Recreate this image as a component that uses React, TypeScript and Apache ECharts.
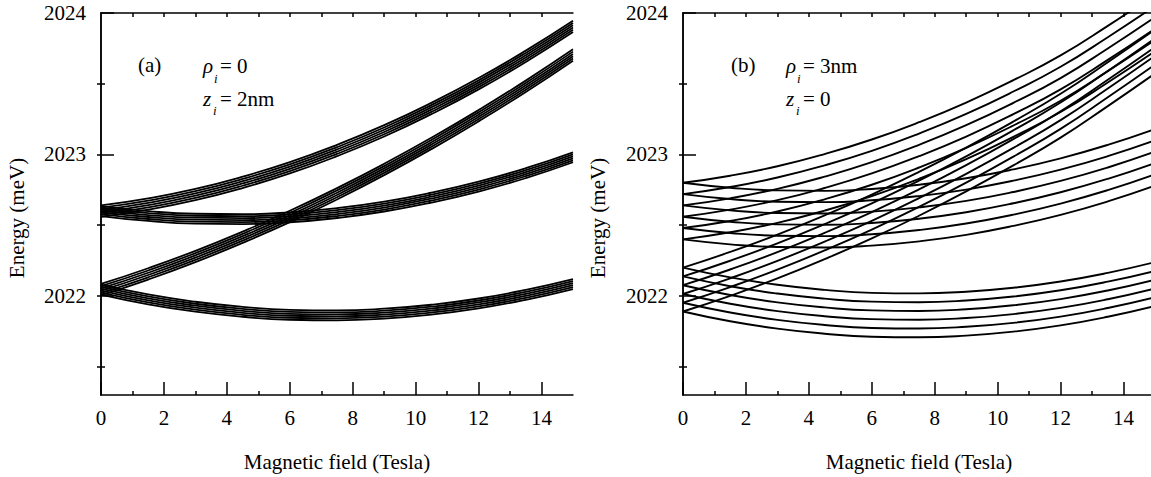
import React, { useEffect, useRef } from "react";
import * as echarts from "echarts";

// Magnetic field sample points (Tesla)
const B_FIELD = [0, 1.5, 3, 4.5, 6, 7.5, 9, 10.5, 12, 13.5, 15];
const X_MAJOR = [0, 2, 4, 6, 8, 10, 12, 14];
const X_MINOR = [1, 3, 5, 7, 9, 11, 13];
const X_TOP = [1, 2, 3, 4, 5, 6, 7, 8, 9, 10, 11, 12, 13, 14];
const Y_MAJOR = [2022, 2023, 2024];
const Y_MINOR = [2021.5, 2022.5, 2023.5];
const Y_RIGHT_TICKS = [2021.5, 2022, 2022.5, 2023, 2023.5];

// Panel (a): rho_i = 0, z_i = 2nm  (four bands of six lines each, meV)
const LEFT_BAND_1 = [
  [2022.64, 2022.69, 2022.757, 2022.843, 2022.946, 2023.068, 2023.207, 2023.365, 2023.54, 2023.734, 2023.945],
  [2022.624, 2022.674, 2022.741, 2022.827, 2022.93, 2023.052, 2023.191, 2023.349, 2023.524, 2023.718, 2023.929],
  [2022.608, 2022.658, 2022.725, 2022.811, 2022.914, 2023.036, 2023.175, 2023.333, 2023.508, 2023.702, 2023.913],
  [2022.592, 2022.642, 2022.709, 2022.795, 2022.898, 2023.02, 2023.159, 2023.317, 2023.492, 2023.686, 2023.897],
  [2022.576, 2022.626, 2022.693, 2022.779, 2022.882, 2023.004, 2023.143, 2023.301, 2023.476, 2023.67, 2023.881],
  [2022.56, 2022.61, 2022.677, 2022.763, 2022.866, 2022.988, 2023.127, 2023.285, 2023.46, 2023.654, 2023.865],
];
const LEFT_BAND_2 = [
  [2022.085, 2022.196, 2022.319, 2022.455, 2022.602, 2022.762, 2022.934, 2023.118, 2023.314, 2023.522, 2023.743],
  [2022.069, 2022.18, 2022.303, 2022.439, 2022.586, 2022.746, 2022.918, 2023.102, 2023.298, 2023.506, 2023.727],
  [2022.053, 2022.164, 2022.287, 2022.423, 2022.57, 2022.73, 2022.902, 2023.086, 2023.282, 2023.49, 2023.711],
  [2022.037, 2022.148, 2022.271, 2022.407, 2022.554, 2022.714, 2022.886, 2023.07, 2023.266, 2023.474, 2023.695],
  [2022.021, 2022.132, 2022.255, 2022.391, 2022.538, 2022.698, 2022.87, 2023.054, 2023.25, 2023.458, 2023.679],
  [2022.005, 2022.116, 2022.239, 2022.375, 2022.522, 2022.682, 2022.854, 2023.038, 2023.234, 2023.442, 2023.663],
];
const LEFT_BAND_3 = [
  [2022.635, 2022.6, 2022.581, 2022.578, 2022.591, 2022.621, 2022.667, 2022.73, 2022.808, 2022.903, 2023.015],
  [2022.621, 2022.586, 2022.567, 2022.564, 2022.577, 2022.607, 2022.653, 2022.716, 2022.794, 2022.889, 2023.001],
  [2022.607, 2022.572, 2022.553, 2022.55, 2022.563, 2022.593, 2022.639, 2022.702, 2022.78, 2022.875, 2022.987],
  [2022.593, 2022.558, 2022.539, 2022.536, 2022.549, 2022.579, 2022.625, 2022.688, 2022.766, 2022.861, 2022.973],
  [2022.579, 2022.544, 2022.525, 2022.522, 2022.535, 2022.565, 2022.611, 2022.674, 2022.752, 2022.847, 2022.959],
  [2022.565, 2022.53, 2022.511, 2022.508, 2022.521, 2022.551, 2022.597, 2022.66, 2022.738, 2022.833, 2022.945],
];
const LEFT_BAND_4 = [
  [2022.08, 2022.011, 2021.959, 2021.923, 2021.902, 2021.898, 2021.91, 2021.938, 2021.982, 2022.043, 2022.119],
  [2022.066, 2021.997, 2021.945, 2021.909, 2021.888, 2021.884, 2021.896, 2021.924, 2021.968, 2022.029, 2022.105],
  [2022.052, 2021.983, 2021.931, 2021.895, 2021.874, 2021.87, 2021.882, 2021.91, 2021.954, 2022.015, 2022.091],
  [2022.038, 2021.969, 2021.917, 2021.881, 2021.86, 2021.856, 2021.868, 2021.896, 2021.94, 2022.001, 2022.077],
  [2022.024, 2021.955, 2021.903, 2021.867, 2021.846, 2021.842, 2021.854, 2021.882, 2021.926, 2021.987, 2022.063],
  [2022.01, 2021.941, 2021.889, 2021.853, 2021.832, 2021.828, 2021.84, 2021.868, 2021.912, 2021.973, 2022.049],
];

// Panel (b): rho_i = 3nm, z_i = 0
const RIGHT_BAND_1 = [
  [2022.8, 2022.85, 2022.917, 2023.003, 2023.106, 2023.228, 2023.367, 2023.525, 2023.7, 2023.909, 2024.13],
  [2022.72, 2022.77, 2022.837, 2022.923, 2023.026, 2023.148, 2023.287, 2023.445, 2023.62, 2023.829, 2024.05],
  [2022.64, 2022.69, 2022.757, 2022.843, 2022.946, 2023.068, 2023.207, 2023.365, 2023.54, 2023.749, 2023.97],
  [2022.56, 2022.61, 2022.677, 2022.763, 2022.866, 2022.988, 2023.127, 2023.285, 2023.46, 2023.669, 2023.89],
  [2022.48, 2022.53, 2022.597, 2022.683, 2022.786, 2022.908, 2023.047, 2023.205, 2023.38, 2023.589, 2023.81],
  [2022.4, 2022.45, 2022.517, 2022.603, 2022.706, 2022.828, 2022.967, 2023.125, 2023.3, 2023.509, 2023.73],
];
const RIGHT_BAND_2 = [
  [2022.2, 2022.311, 2022.434, 2022.57, 2022.717, 2022.877, 2023.049, 2023.233, 2023.429, 2023.652, 2023.883],
  [2022.138, 2022.249, 2022.372, 2022.508, 2022.655, 2022.815, 2022.987, 2023.171, 2023.367, 2023.59, 2023.821],
  [2022.076, 2022.187, 2022.31, 2022.446, 2022.593, 2022.753, 2022.925, 2023.109, 2023.305, 2023.528, 2023.759],
  [2022.014, 2022.125, 2022.248, 2022.384, 2022.531, 2022.691, 2022.863, 2023.047, 2023.243, 2023.466, 2023.697],
  [2021.952, 2022.063, 2022.186, 2022.322, 2022.469, 2022.629, 2022.801, 2022.985, 2023.181, 2023.404, 2023.635],
  [2021.89, 2022.001, 2022.124, 2022.26, 2022.407, 2022.567, 2022.739, 2022.923, 2023.119, 2023.342, 2023.573],
];
const RIGHT_BAND_3 = [
  [2022.8, 2022.765, 2022.746, 2022.743, 2022.756, 2022.786, 2022.832, 2022.895, 2022.973, 2023.068, 2023.18],
  [2022.72, 2022.685, 2022.666, 2022.663, 2022.676, 2022.706, 2022.752, 2022.815, 2022.893, 2022.988, 2023.1],
  [2022.64, 2022.605, 2022.586, 2022.583, 2022.596, 2022.626, 2022.672, 2022.735, 2022.813, 2022.908, 2023.02],
  [2022.56, 2022.525, 2022.506, 2022.503, 2022.516, 2022.546, 2022.592, 2022.655, 2022.733, 2022.828, 2022.94],
  [2022.48, 2022.445, 2022.426, 2022.423, 2022.436, 2022.466, 2022.512, 2022.575, 2022.653, 2022.748, 2022.86],
  [2022.4, 2022.365, 2022.346, 2022.343, 2022.356, 2022.386, 2022.432, 2022.495, 2022.573, 2022.668, 2022.78],
];
const RIGHT_BAND_4 = [
  [2022.2, 2022.131, 2022.079, 2022.043, 2022.022, 2022.018, 2022.03, 2022.058, 2022.102, 2022.163, 2022.239],
  [2022.138, 2022.069, 2022.017, 2021.981, 2021.96, 2021.956, 2021.968, 2021.996, 2022.04, 2022.101, 2022.177],
  [2022.076, 2022.007, 2021.955, 2021.919, 2021.898, 2021.894, 2021.906, 2021.934, 2021.978, 2022.039, 2022.115],
  [2022.014, 2021.945, 2021.893, 2021.857, 2021.836, 2021.832, 2021.844, 2021.872, 2021.916, 2021.977, 2022.053],
  [2021.952, 2021.883, 2021.831, 2021.795, 2021.774, 2021.77, 2021.782, 2021.81, 2021.854, 2021.915, 2021.991],
  [2021.89, 2021.821, 2021.769, 2021.733, 2021.712, 2021.708, 2021.72, 2021.748, 2021.792, 2021.853, 2021.929],
];

const FONT = "'Liberation Serif', 'Times New Roman', serif";
const Y_MIN = 2021.3;
const Y_MAX = 2024;

function buildAxes(gridIndex: number) {
  const line = { lineStyle: { color: "#000", width: 1.5 } };
  const xAxes = [
    {
      type: "value", gridIndex, position: "bottom", min: 0, max: 15,
      axisLine: { show: true, ...line },
      axisTick: { show: true, inside: true, length: 13, customValues: X_MAJOR, ...line },
      axisLabel: {
        show: true, customValues: X_MAJOR, color: "#000", fontFamily: FONT, fontSize: 21, margin: 12,
        formatter: (v: number) => String(v),
      },
      splitLine: { show: false },
    },
    {
      type: "value", gridIndex, position: "bottom", min: 0, max: 15,
      axisLine: { show: false },
      axisTick: { show: true, inside: true, length: 4, customValues: X_MINOR, ...line },
      axisLabel: { show: false },
      splitLine: { show: false },
    },
    {
      type: "value", gridIndex, position: "top", min: 0, max: 15,
      axisLine: { show: true, ...line },
      axisTick: { show: true, inside: true, length: 4, customValues: X_TOP, ...line },
      axisLabel: { show: false },
      splitLine: { show: false },
    },
  ];
  const yAxes = [
    {
      type: "value", gridIndex, position: "left", min: Y_MIN, max: Y_MAX,
      axisLine: { show: true, ...line },
      axisTick: { show: true, inside: true, length: 13, customValues: Y_MAJOR, ...line },
      axisLabel: {
        show: true, customValues: Y_MAJOR, color: "#000", fontFamily: FONT, fontSize: 21, margin: 15,
        formatter: (v: number) => String(v),
      },
      splitLine: { show: false },
    },
    {
      type: "value", gridIndex, position: "left", min: Y_MIN, max: Y_MAX,
      axisLine: { show: false },
      axisTick: { show: true, inside: true, length: 4, customValues: Y_MINOR, ...line },
      axisLabel: { show: false },
      splitLine: { show: false },
    },
    {
      type: "value", gridIndex, position: "right", min: Y_MIN, max: Y_MAX,
      axisLine: { show: true, ...line },
      axisTick: { show: true, inside: true, length: 4, customValues: Y_RIGHT_TICKS, ...line },
      axisLabel: { show: false },
      splitLine: { show: false },
    },
  ];
  return { xAxes, yAxes };
}

function bandSeries(bands: number[][][], axisIndex: number, width: number) {
  const out: any[] = [];
  bands.forEach((band) => {
    band.forEach((values) => {
      out.push({
        type: "line",
        xAxisIndex: axisIndex,
        yAxisIndex: axisIndex,
        data: B_FIELD.map((b, i) => [b, values[i]]),
        smooth: true,
        showSymbol: false,
        symbol: "none",
        clip: true,
        lineStyle: { color: "#000", width },
        silent: true,
      });
    });
  });
  return out;
}

function txt(x: number, y: number, text: string, extra: any = {}) {
  return {
    type: "text",
    x,
    y,
    silent: true,
    rotation: extra.rotation || 0,
    style: {
      text,
      fill: "#000",
      font: `${extra.italic ? "italic " : ""}${extra.size || 21}px ${FONT}`,
      textAlign: extra.align || "left",
      textVerticalAlign: "middle",
    },
  };
}

export default function App() {
  const ref = useRef<HTMLDivElement>(null);
  useEffect(() => {
    if (!ref.current) return;
    const chart = echarts.init(ref.current, undefined, { renderer: "svg" });
    const a = buildAxes(0);
    const b = buildAxes(1);
    const option: any = {
      animation: false,
      backgroundColor: "#fff",
      grid: [
        { left: 101, top: 13, width: 472, height: 382, containLabel: false, outerBoundsMode: "none" },
        { left: 683, top: 13, width: 472, height: 382, containLabel: false, outerBoundsMode: "none" },
      ],
      xAxis: [...a.xAxes, ...b.xAxes],
      yAxis: [...a.yAxes, ...b.yAxes],
      series: [
        ...bandSeries([LEFT_BAND_1, LEFT_BAND_2, LEFT_BAND_3, LEFT_BAND_4], 0, 1.8),
        ...bandSeries([RIGHT_BAND_1, RIGHT_BAND_2, RIGHT_BAND_3, RIGHT_BAND_4], 3, 1.9),
      ],
      graphic: [
        txt(337, 462, "Magnetic field (Tesla)", { align: "center" }),
        txt(919, 462, "Magnetic field (Tesla)", { align: "center" }),
        txt(17, 218, "Energy (meV)", { align: "center", rotation: Math.PI / 2 }),
        txt(598, 218, "Energy (meV)", { align: "center", rotation: Math.PI / 2 }),
        txt(138, 65, "(a)"),
        txt(203, 66, "ρ", { italic: true }),
        txt(214, 78, "i", { italic: true, size: 13 }),
        txt(220, 66, "= 0"),
        txt(203, 99, "z", { italic: true }),
        txt(213, 110, "i", { italic: true, size: 13 }),
        txt(220, 99, "= 2nm"),
        txt(731, 65, "(b)"),
        txt(786, 66, "ρ", { italic: true }),
        txt(797, 78, "i", { italic: true, size: 13 }),
        txt(803, 66, "= 3nm"),
        txt(786, 99, "z", { italic: true }),
        txt(796, 110, "i", { italic: true, size: 13 }),
        txt(803, 99, "= 0"),
      ],
    };
    chart.setOption(option);
    return () => chart.dispose();
  }, []);
  return (
    <div
      ref={ref}
      style={{ position: "absolute", left: 0, top: 0, width: 1151, height: 477, background: "#fff" }}
    />
  );
}
